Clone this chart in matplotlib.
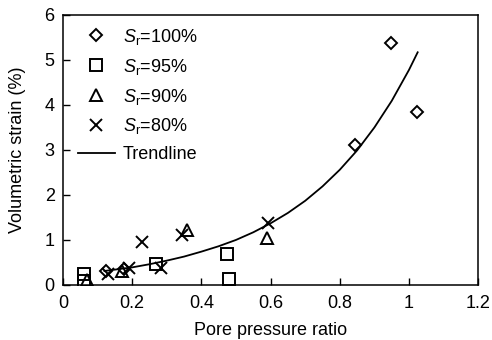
import matplotlib.pyplot as plt

plt.rcParams['font.family'] = ['Liberation Sans', 'DejaVu Sans']
plt.rcParams['mathtext.fontset'] = 'custom'
plt.rcParams['mathtext.it'] = 'Liberation Sans:italic'
plt.rcParams['mathtext.rm'] = 'Liberation Sans'

# Data
sr100_x = [0.125, 0.175, 0.845, 0.949, 1.024]
sr100_y = [0.31, 0.36, 3.11, 5.38, 3.84]

sr95_x = [0.062, 0.062, 0.27, 0.474, 0.48]
sr95_y = [0.24, 0.08, 0.46, 0.69, 0.13]

sr90_x = [0.07, 0.17, 0.358, 0.59]
sr90_y = [0.12, 0.31, 1.22, 1.04]

sr80_x = [0.13, 0.19, 0.229, 0.282, 0.344, 0.593]
sr80_y = [0.24, 0.37, 0.96, 0.38, 1.12, 1.37]

# trendline
trend_x = [0.12, 0.15, 0.2, 0.25, 0.3, 0.35, 0.4, 0.45, 0.5, 0.55, 0.6, 0.65,
           0.7, 0.75, 0.8, 0.85, 0.9, 0.95, 1.0, 1.025]
trend_y = [0.31, 0.34, 0.39, 0.46, 0.54, 0.63, 0.74, 0.86, 1.00, 1.17, 1.37, 1.60,
           1.87, 2.19, 2.56, 2.99, 3.50, 4.09, 4.78, 5.17]

fig = plt.figure(figsize=(4.92, 3.40), dpi=100)
ax = fig.add_axes([0.128, 0.162, 0.844, 0.794])

mk = dict(linestyle='none', markerfacecolor='none', markeredgecolor='black',
          markeredgewidth=1.4, color='black')
ax.plot(sr100_x, sr100_y, marker='D', markersize=6.5, label=r'$S_\mathrm{r}$=100%', **mk)
ax.plot(sr95_x, sr95_y, marker='s', markersize=8, label=r'$S_\mathrm{r}$=95%', **mk)
ax.plot(sr90_x, sr90_y, marker='^', markersize=8.5, label=r'$S_\mathrm{r}$=90%', **mk)
ax.plot(sr80_x, sr80_y, marker='x', markersize=9, label=r'$S_\mathrm{r}$=80%', **mk)
ax.plot(trend_x, trend_y, color='black', linewidth=1.3, label='Trendline')

ax.set_xlim(0, 1.2)
ax.set_ylim(0, 6)
ax.set_xticks([0, 0.2, 0.4, 0.6, 0.8, 1.0, 1.2])
ax.set_xticklabels(['0', '0.2', '0.4', '0.6', '0.8', '1', '1.2'])
ax.set_yticks(range(0, 7))
ax.tick_params(direction='in', length=5, width=1, labelsize=13)
ax.tick_params(axis='x', pad=7.5)
ax.tick_params(axis='y', pad=6)
for s in ax.spines.values():
    s.set_linewidth(1.1)

ax.set_xlabel('Pore pressure ratio', fontsize=13, labelpad=7)
ax.set_ylabel('Volumetric strain (%)', fontsize=13, labelpad=13)

ax.legend(loc='upper left', bbox_to_anchor=(0, 1.012), frameon=False, fontsize=13,
          handlelength=2.05, labelspacing=0.55, borderaxespad=0.43, handletextpad=0.45)

fig.savefig('out.png', dpi=100)
